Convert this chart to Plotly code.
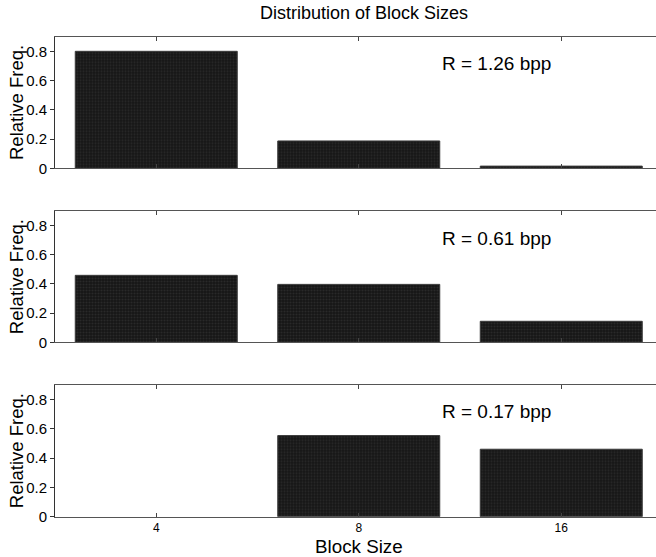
import plotly.graph_objects as go

block_sizes = ["4", "8", "16"]
freq_r126 = [0.80, 0.187, 0.015]
freq_r061 = [0.459, 0.397, 0.144]
freq_r017 = [0.0, 0.553, 0.46]
rates = ["R = 1.26 bpp", "R = 0.61 bpp", "R = 0.17 bpp"]
y_ticks = [0, 0.2, 0.4, 0.6, 0.8]
y_ticklabels = ["0", "0.2", "0.4", "0.6", "0.8"]

series = [freq_r126, freq_r061, freq_r017]

W, H = 656, 557
FONT = "Liberation Sans, Arial, Helvetica, sans-serif"

# panel pixel extents (top, bottom)
panels = [(36.7, 168.3), (211.0, 342.3), (384.7, 516.7)]
x_left = 55

fig = go.Figure()
layout = dict(
    width=W, height=H,
    margin=dict(l=0, r=0, t=0, b=0, pad=0, autoexpand=False),
    paper_bgcolor="white", plot_bgcolor="white",
    showlegend=False,
    font=dict(family=FONT, color="black"),
    bargap=0.2,
)

annotations = []
for i, (vals, rate, (top, bot)) in enumerate(zip(series, rates, panels)):
    n = i + 1
    xa = "x" if n == 1 else f"x{n}"
    ya = "y" if n == 1 else f"y{n}"
    fig.add_trace(go.Bar(
        x=block_sizes, y=vals, xaxis=xa, yaxis=ya, width=0.8,
        marker=dict(color="#1b1b1b",
                    line=dict(color="#3a3a3a", width=[1 if v > 0 else 0 for v in vals]),
                    pattern=dict(shape=".", fgcolor="#3c3c3c", bgcolor="#161616",
                                 size=3, solidity=0.35)),
        hoverinfo="skip",
    ))
    xkey = "xaxis" if n == 1 else f"xaxis{n}"
    ykey = "yaxis" if n == 1 else f"yaxis{n}"
    layout[xkey] = dict(
        domain=[x_left / W, 1], anchor=ya, type="category",
        range=[-0.5, (W - x_left) / 202.5 - 0.5], automargin=False,
        showline=True, linecolor="#555", linewidth=1, mirror="ticks",
        ticks="inside", ticklen=4, tickcolor="#444",
        showticklabels=(n == 3), tickfont=dict(size=12, family=FONT),
        showgrid=False, zeroline=False,
    )
    layout[ykey] = dict(
        domain=[1 - bot / H, 1 - top / H], anchor=xa,
        range=[0, 0.9], tickvals=y_ticks, ticktext=y_ticklabels, automargin=False,
        ticks="outside", ticklen=4, tickcolor="#333",
        showline=True, linecolor="#333", linewidth=1,
        tickfont=dict(size=15, family=FONT),
        showgrid=False, zeroline=False,
    )
    annotations.append(dict(
        text=rate, xref="paper", yref=ya, x=440 / W, y=0.714,
        xanchor="left", yanchor="middle", showarrow=False,
        font=dict(size=19, family=FONT, color="black"),
    ))
    annotations.append(dict(
        text="Relative Freq.", xref="paper", yref="paper",
        x=16.5 / W, y=1 - ((top + bot) / 2) / H, textangle=-90,
        xanchor="center", yanchor="middle", showarrow=False,
        font=dict(size=18.5, family=FONT, color="black"),
    ))

annotations.append(dict(
    text="Distribution of Block Sizes", xref="paper", yref="paper",
    x=364 / W, y=1 - 13 / H, xanchor="center", yanchor="middle",
    showarrow=False, font=dict(size=18, family=FONT, color="black"),
))
annotations.append(dict(
    text="Block Size", xref="paper", yref="paper",
    x=359 / W, y=1 - 546 / H, xanchor="center", yanchor="middle",
    showarrow=False, font=dict(size=18.8, family=FONT, color="black"),
))

layout["annotations"] = annotations
fig.update_layout(**layout)
fig.write_html(
    "out.html",
    config={"displayModeBar": False},
    post_script=(
        "document.documentElement.style.margin='0';"
        "document.documentElement.style.padding='0';"
        "document.body.style.margin='0';"
        "document.body.style.padding='0';"
    ),
)
